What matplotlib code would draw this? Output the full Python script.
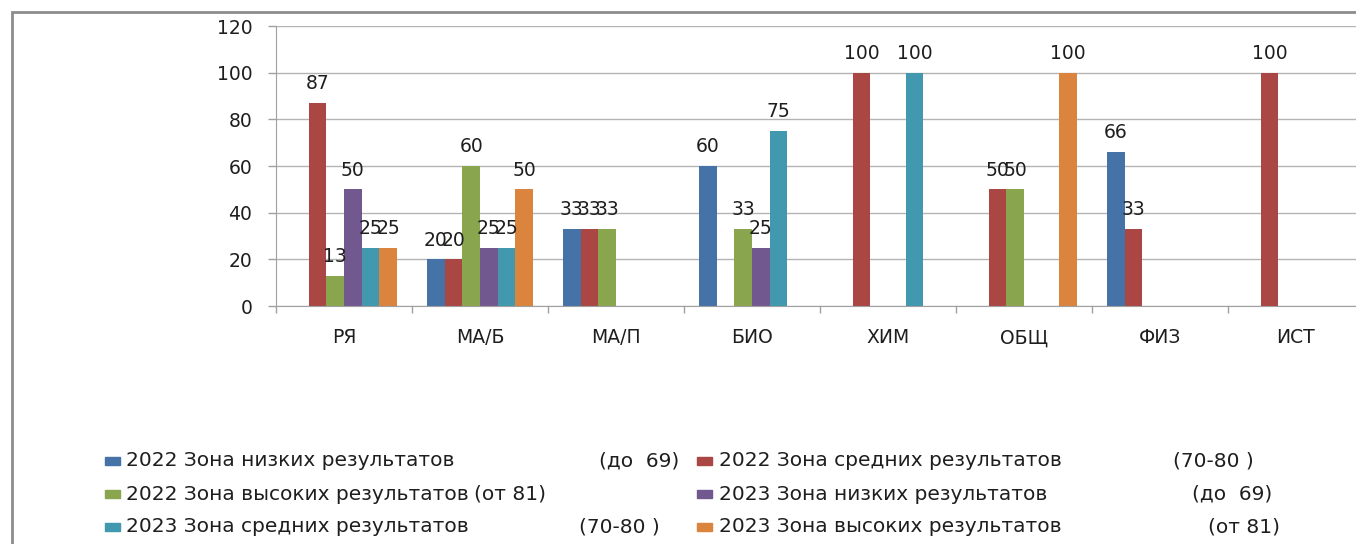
import numpy as np
import matplotlib.pyplot as plt
from matplotlib.patches import Rectangle

# categories and series (0 = no bar)
categories = ["РЯ", "МА/Б", "МА/П", "БИО", "ХИМ", "ОБЩ", "ФИЗ", "ИСТ"]
low_2022 = [0, 20, 33, 60, 0, 0, 66, 0]
mid_2022 = [87, 20, 33, 0, 100, 50, 33, 100]
high_2022 = [13, 60, 33, 33, 0, 50, 0, 0]
low_2023 = [50, 25, 0, 25, 0, 0, 0, 0]
mid_2023 = [25, 25, 0, 75, 100, 0, 0, 0]
high_2023 = [25, 50, 0, 0, 0, 100, 0, 0]

series_names = ["2022 Зона низких результатов", "2022 Зона средних результатов",
                "2022 Зона высоких результатов", "2023 Зона низких результатов",
                "2023 Зона средних результатов", "2023 Зона высоких результатов"]
series_ranges = ["(до  69)", "(70-80 )", "(от 81)", "(до  69)", "(70-80 )", "(от 81)"]
yticks = [0, 20, 40, 60, 80, 100, 120]

colors = ["#4572A7", "#AA4643", "#89A54E", "#71588F", "#4198AF", "#DB843D"]
series = [low_2022, mid_2022, high_2022, low_2023, mid_2023, high_2023]

W, H = 1356, 544
fig = plt.figure(figsize=(W / 100, H / 100), dpi=100)
plt.rcParams['font.family'] = ['DejaVu Sans']
txt = "#1e1e1e"
fs = 13.5
fs_leg = 14.5

# outer chart frame (runs off the right/bottom edge)
fig.patches.append(Rectangle((12 / W, -0.1), 1.2, 1 - 12 / H + 0.1, transform=fig.transFigure,
                             fill=False, edgecolor="#8c8c8c", linewidth=2))

ax = fig.add_axes([276 / W, 1 - 306 / H, 1088 / W, 280 / H])
x = np.arange(len(categories))
w = 0.13
start = -0.5 + 15 / 136

for i, (vals, col) in enumerate(zip(series, colors)):
    vals = np.array(vals, dtype=float)
    pos = x + start + w * (i + 0.5)
    m = vals > 0
    bars = ax.bar(pos[m], vals[m], width=w, color=col, zorder=3)
    for b, v in zip(bars, vals[m]):
        ax.annotate(f"{v:.0f}", (b.get_x() + b.get_width() / 2, v), xytext=(0, 7),
                    textcoords="offset points", ha="center", va="bottom",
                    fontsize=fs, color=txt, zorder=4)

ax.set_xlim(-0.5, len(categories) - 0.5)
ax.set_ylim(0, 120)
ax.set_yticks(yticks)
ax.tick_params(axis="y", length=6, width=1, color="#a0a0a0", pad=11, labelsize=fs, labelcolor=txt)
ax.set_xticks(x)
ax.set_xticklabels(categories)
ax.set_xticks(np.arange(len(categories) + 1) - 0.5, minor=True)
ax.tick_params(axis="x", which="major", length=0, pad=16, labelsize=fs, labelcolor=txt)
ax.tick_params(axis="x", which="minor", length=5, width=1, color="#a0a0a0")
ax.grid(axis="y", color="#b4b4b4", linewidth=1, zorder=0)
for s in ["top", "right"]:
    ax.spines[s].set_visible(False)
for s in ["left", "bottom"]:
    ax.spines[s].set_color("#a0a0a0")
    ax.spines[s].set_zorder(3.5)

# legend drawn row by row like the Excel one
row_y = [461, 494, 527]
col_marker = [105, 697]
col_text = [126, 719]
range_x = [599, 1173, 474, 1192, 579, 1208]
for i, (name, rng, col) in enumerate(zip(series_names, series_ranges, colors)):
    r, c = i // 2, i % 2
    y = 1 - row_y[r] / H
    fig.patches.append(Rectangle((col_marker[c] / W, y - 4 / H), 15 / W, 8 / H,
                                 transform=fig.transFigure, color=col))
    fig.text(col_text[c] / W, y, name, ha="left", va="center", fontsize=fs_leg, color=txt)
    fig.text(range_x[i] / W, y, rng, ha="left", va="center", fontsize=fs_leg, color=txt)

fig.savefig("out.png", dpi=100)
